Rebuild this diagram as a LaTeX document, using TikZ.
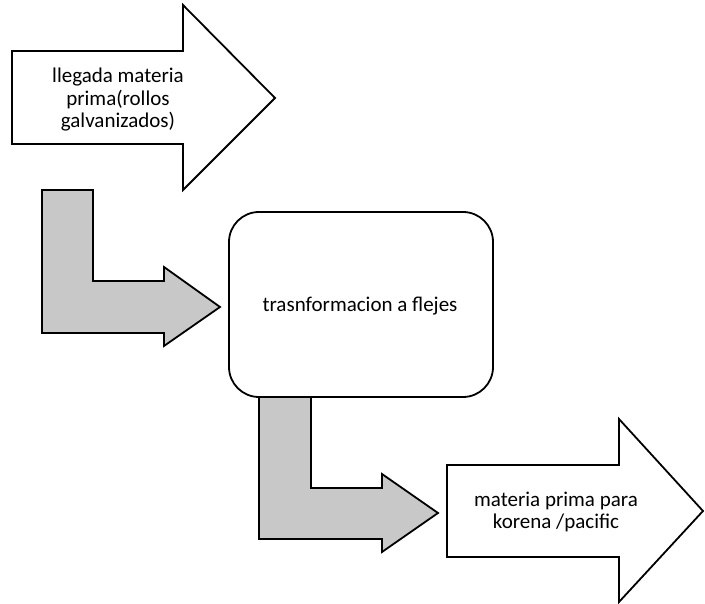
\documentclass[tikz,border=0pt]{standalone}
\usepackage{fontspec}
\setmainfont{Carlito}
\begin{document}
\begin{tikzpicture}[x=1pt,y=-1pt,
  shapeline/.style={draw=black,line width=1.8pt,line join=miter},
  blockarrow/.style={shapeline,fill=white},
  bentarrow/.style={shapeline,fill=bentgray},
  procbox/.style={shapeline,fill=white,rounded corners=30pt},
  label/.style={font=\fontsize{21}{22.5}\selectfont,align=center,text=black}]
\definecolor{bentgray}{RGB}{200,200,200}
\useasboundingbox (0,0) rectangle (705,604);
% incoming raw material arrow
\draw[blockarrow] (12,51) -- (183,51) -- (183,5) -- (275,98) -- (183,190) -- (183,144) -- (12,144) -- cycle;
\node[label] (llegada) at (118,100) {llegada materia\\prima(rollos\\galvanizados)};
% bent arrow into the process
\draw[bentarrow] (42,190) -- (93,190) -- (93,281) -- (164,281) -- (164,267) -- (220,307) -- (164,346) -- (164,333) -- (42,333) -- cycle;
% bent arrow out of the process
\draw[bentarrow] (259,397) -- (311,397) -- (311,488) -- (382,488) -- (382,474) -- (438,513) -- (382,552) -- (382,539) -- (259,539) -- cycle;
% process box
\draw[procbox] (229,212) rectangle (493,397);
\node[label] (proceso) at (360,306) {trasnformacion a flejes};
% outgoing product arrow
\draw[blockarrow] (447,465) -- (619,465) -- (619,419) -- (703,511) -- (619,602) -- (619,557) -- (447,557) -- cycle;
\node[label] (salida) at (556,512) {materia prima para\\korena /pacific};
\end{tikzpicture}
\end{document}
